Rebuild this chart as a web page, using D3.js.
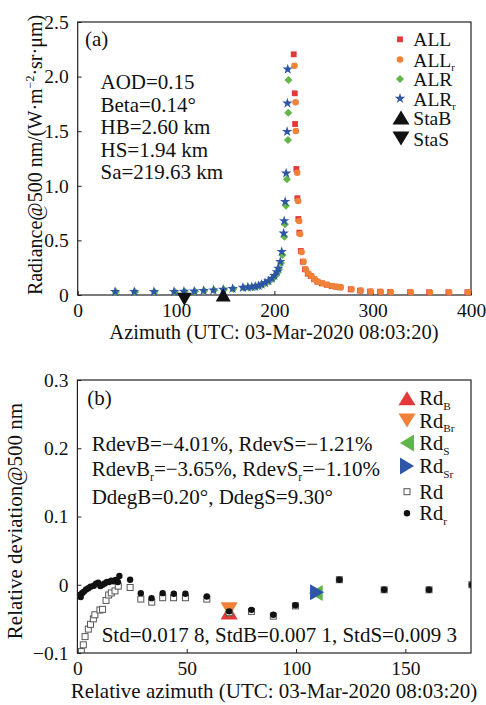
<!DOCTYPE html>
<html>
<head>
<meta charset="utf-8">
<script src="https://cdn.jsdelivr.net/npm/d3@7"></script>
<style>
  body { margin: 0; background: #fff; }
  svg text { font-family: "Liberation Serif", "Times New Roman", serif; fill: #111; }
  .tick text { font-size: 19.5px; }
  .tick line { stroke: #222; }
</style>
</head>
<body>
<svg id="chart" width="486" height="705"></svg>
<script>
// ---- panel (a): radiance vs azimuth ----
const alrAz = [38, 57.5, 77.5, 98, 108, 118.5, 128, 138, 148, 157.5, 168, 173, 177, 180.5, 184, 187, 190.5, 194, 197.5, 200, 202.5, 204, 206, 207.5, 209.5, 210, 211, 212, 213, 213.3, 213.6];
const alrR  = [0.028, 0.028, 0.028, 0.029, 0.031, 0.032, 0.038, 0.043, 0.048, 0.056, 0.066, 0.069, 0.072, 0.076, 0.083, 0.095, 0.110, 0.125, 0.149, 0.172, 0.207, 0.236, 0.292, 0.366, 0.534, 0.648, 0.818, 1.06, 1.42, 1.67, 1.969];
const alrRr = [0.03, 0.03, 0.03, 0.031, 0.033, 0.034, 0.04, 0.045, 0.05, 0.058, 0.068, 0.071, 0.074, 0.078, 0.085, 0.097, 0.112, 0.128, 0.152, 0.177, 0.212, 0.244, 0.305, 0.397, 0.565, 0.678, 0.855, 1.115, 1.496, 1.756, 2.067];

const allAz = [219.7, 220.8, 221.1, 222.4, 223.4, 224.4, 225.4, 226.9, 228.9, 231.2, 234, 237, 240.4, 243.7, 248.2, 253.3, 258.4, 262.8, 266.8, 277.7, 287.2, 297.4, 307.5, 317.7, 338, 357.4, 377, 396.3];
const allL  = [2.204, 1.847, 1.566, 1.154, 0.886, 0.696, 0.571, 0.403, 0.305, 0.235, 0.195, 0.174, 0.144, 0.122, 0.107, 0.094, 0.082, 0.076, 0.07, 0.052, 0.04, 0.032, 0.03, 0.028, 0.026, 0.025, 0.025, 0.025];
const allLr = [2.1, 1.765, 1.502, 1.12, 0.861, 0.678, 0.559, 0.394, 0.305, 0.235, 0.195, 0.174, 0.144, 0.122, 0.107, 0.094, 0.082, 0.076, 0.07, 0.052, 0.04, 0.032, 0.03, 0.028, 0.026, 0.025, 0.025, 0.025];

const staB = {az: 148, r: 0.0};
const staS = {az: 108.5, r: -0.04};

const infoA = ["AOD=0.15", "Beta=0.14°", "HB=2.60 km", "HS=1.94 km", "Sa=219.63 km"];
const xTicksA = [0, 100, 200, 300, 400];
const yTicksA = [0, 0.5, 1.0, 1.5, 2.0, 2.5];

// ---- panel (b): relative deviation ----
const rdAz = [1.8, 2.7, 3.5, 5, 6, 7.3, 8, 10.3, 11.5, 13.1, 14.3, 15.5, 17.2, 18.7, 24.1, 29, 34, 39, 44, 49.4, 59.2, 69.4, 79.6, 89.6, 99.7, 119.8, 140.3, 160.8, 180.4];
const rdV  = [-0.098, -0.088, -0.076, -0.065, -0.058, -0.05, -0.044, -0.037, -0.036, -0.023, -0.015, -0.012, -0.009, -0.002, -0.004, -0.021, -0.0255, -0.019, -0.019, -0.019, -0.021, -0.041, -0.039, -0.046, -0.031, 0.0074, -0.0074, -0.0074, 0];
const rdrAz = [1, 1.5, 2.2, 3, 4, 5, 6, 7.5, 8.5, 9.5, 10.5, 11.5, 12.5, 13.5, 14.5, 15.5, 16.5, 17.5, 18.5, 19.2, 24.1, 29, 33.9, 39, 44.1, 49.4, 59.2, 69.4, 79.6, 89.6, 99.7, 119.8, 140.3, 160.8, 180.4];
const rdrV  = [-0.015, -0.018, -0.012, -0.01, -0.007, -0.005, -0.003, -0.0015, 0.0015, 0.003, -0.002, 0, 0.002, 0.004, 0.004, 0.006, 0.005, 0.007, 0.004, 0.013, 0.0074, -0.0123, -0.0196, -0.0123, -0.0132, -0.0132, -0.0172, -0.039, -0.0368, -0.044, -0.030, 0.0074, -0.0074, -0.0074, 0];

const rdB  = {az: 69.4, v: -0.0401};
const rdBr = {az: 69.4, v: -0.0365};
const rdS  = {az: 109.0, v: -0.0121};
const rdSr = {az: 109.6, v: -0.0110};

const xTicksB = [0, 50, 100, 150];
const yTicksB = [-0.1, 0, 0.1, 0.2, 0.3];

const colors = {red: "#e3393a", orange: "#ef8138", green: "#63b54a", blue: "#2d56a6"};

const svg = d3.select("#chart");

function triPath(dir, w, h) {
    const a = w / 2, b = h / 2;
    if (dir === "up") return `M0,${-b}L${a},${b}L${-a},${b}Z`;
    if (dir === "down") return `M0,${b}L${a},${-b}L${-a},${-b}Z`;
    if (dir === "left") return `M${-b},0L${b},${-a}L${b},${a}Z`;
    return `M${b},0L${-b},${-a}L${-b},${a}Z`;
}
const diamondPath = "M0,-4L4,0L0,4L-4,0Z";

function frame(g, x, y) {
    g.append("rect")
        .attr("x", x.range()[0]).attr("y", y.range()[1])
        .attr("width", x.range()[1] - x.range()[0])
        .attr("height", y.range()[0] - y.range()[1])
        .attr("fill", "none").attr("stroke", "#222").attr("stroke-width", 1.2);
}

function axes(g, x, y, xTicks, yTicks, yFmt) {
    g.append("g")
        .attr("transform", `translate(0,${y.range()[0]})`)
        .call(d3.axisBottom(x).tickValues(xTicks).tickSize(-4).tickPadding(8).tickFormat(d3.format("d")))
        .call(a => a.select(".domain").remove());
    g.append("g")
        .attr("transform", `translate(${x.range()[0]},0)`)
        .call(d3.axisLeft(y).tickValues(yTicks).tickSize(-4).tickPadding(9).tickFormat(yFmt))
        .call(a => a.select(".domain").remove());
}

// text with sub/superscripts: parts = [[str, "sub"|"sup"|null], ...]
function richText(g, x, y, parts, size) {
    const t = g.append("text").attr("x", x).attr("y", y).style("font-size", size + "px");
    let shift = 0;
    parts.forEach(([s, kind]) => {
        let target = 0;
        if (kind === "sub") target = size * 0.22;
        if (kind === "sup") target = -size * 0.38;
        t.append("tspan")
            .attr("dy", target - shift)
            .style("font-size", kind ? (size * 0.55) + "px" : size + "px")
            .text(s);
        shift = target;
    });
    return t;
}

// ================= panel (a) =================
const xa = d3.scaleLinear().domain([0, 400]).range([77.7, 471]);
const ya = d3.scaleLinear().domain([0, 2.5]).range([295, 22]);
const ga = svg.append("g");

axes(ga, xa, ya, xTicksA, yTicksA, d => d === 0 ? "0" : d3.format(".1f")(d));
frame(ga, xa, ya);

const sq = d3.symbol().type(d3.symbolSquare).size(34);
const circ = d3.symbol().type(d3.symbolCircle).size(34);
const star = d3.symbol().type(d3.symbolStar).size(34);

ga.append("g").selectAll("path").data(allAz).join("path")
    .attr("d", sq()).attr("fill", colors.red)
    .attr("transform", (d, i) => `translate(${xa(d)},${ya(allL[i])})`);
ga.append("g").selectAll("path").data(allAz).join("path")
    .attr("d", circ()).attr("fill", colors.orange)
    .attr("transform", (d, i) => `translate(${xa(d) + 0.8},${ya(allLr[i])})`);
ga.append("g").selectAll("path").data(alrAz).join("path")
    .attr("d", diamondPath).attr("fill", colors.green)
    .attr("transform", (d, i) => `translate(${xa(d) + 0.8},${ya(alrR[i])})`);
ga.append("g").selectAll("path").data(alrAz).join("path")
    .attr("d", star()).attr("fill", colors.blue)
    .attr("transform", (d, i) => `translate(${xa(d)},${ya(alrRr[i])})`);

ga.append("path").attr("d", triPath("up", 15, 13)).attr("fill", "#111")
    .attr("transform", `translate(${xa(staB.az)},${ya(staB.r)})`);
ga.append("path").attr("d", triPath("down", 15, 13)).attr("fill", "#111")
    .attr("transform", `translate(${xa(staS.az)},${ya(staS.r)})`);

ga.append("text").attr("x", 85).attr("y", 46).style("font-size", "21px").text("(a)");
infoA.forEach((s, i) => {
    ga.append("text").attr("x", 100.5).attr("y", 89.3 + i * 22.5).style("font-size", "21px").text(s);
});

// legend (a)
const legA = [
    {sym: sq(), col: colors.red, parts: [["ALL", null]]},
    {sym: circ(), col: colors.orange, parts: [["ALL", null], ["r", "sub"]]},
    {sym: diamondPath, col: colors.green, parts: [["ALR", null]]},
    {sym: star(), col: colors.blue, parts: [["ALR", null], ["r", "sub"]]},
    {sym: triPath("up", 17, 14), col: "#111", parts: [["StaB", null]]},
    {sym: triPath("down", 17, 14), col: "#111", parts: [["StaS", null]]}
];
const legAy = [39.3, 59.5, 79, 98.5, 117.5, 138.5];
legA.forEach((d, i) => {
    ga.append("path").attr("d", d.sym).attr("fill", d.col)
        .attr("transform", `translate(${i < 4 ? 400 : 401},${legAy[i]})`);
    richText(ga, 413.3, legAy[i] + 7, d.parts, 19.5);
});

ga.append("text")
    .attr("transform", "translate(42,155) rotate(-90)")
    .attr("text-anchor", "middle")
    .call(t => {
        t.append("tspan").style("font-size", "20px").text("Radiance@500 nm/(W·m");
        t.append("tspan").style("font-size", "12px").attr("dy", -8).text("−2");
        t.append("tspan").style("font-size", "20px").attr("dy", 8).text("·sr·μm)");
    });
ga.append("text").attr("x", 274).attr("y", 339).attr("text-anchor", "middle")
    .style("font-size", "20.5px").text("Azimuth (UTC: 03-Mar-2020 08:03:20)");

// ================= panel (b) =================
const xb = d3.scaleLinear().domain([0, 180]).range([77.4, 471]);
const yb = d3.scaleLinear().domain([-0.1, 0.3]).range([653, 380]);
const gb = svg.append("g");

axes(gb, xb, yb, xTicksB, yTicksB, d => Math.abs(d) < 1e-9 ? "0" : d3.format(".1f")(d));

svg.append("clipPath").attr("id", "clipB").append("rect")
    .attr("x", xb.range()[0]).attr("y", yb.range()[1])
    .attr("width", xb.range()[1] - xb.range()[0]).attr("height", yb.range()[0] - yb.range()[1]);
const pb = gb.append("g").attr("clip-path", "url(#clipB)");

pb.append("path").attr("d", triPath("up", 17, 15)).attr("fill", colors.red)
    .attr("transform", `translate(${xb(rdB.az)},${yb(rdB.v)})`);
pb.append("path").attr("d", triPath("down", 17, 15)).attr("fill", colors.orange)
    .attr("transform", `translate(${xb(rdBr.az)},${yb(rdBr.v)})`);
pb.append("path").attr("d", triPath("left", 16, 14)).attr("fill", colors.green)
    .attr("transform", `translate(${xb(rdS.az)},${yb(rdS.v)})`);
pb.append("path").attr("d", triPath("right", 16, 14)).attr("fill", colors.blue)
    .attr("transform", `translate(${xb(rdSr.az)},${yb(rdSr.v)})`);

pb.append("g").selectAll("rect").data(rdAz).join("rect")
    .attr("x", d => xb(d) - 3).attr("y", (d, i) => yb(rdV[i]) - 3)
    .attr("width", 6).attr("height", 6)
    .attr("fill", "#fff").attr("stroke", "#555").attr("stroke-width", 1);
pb.append("g").selectAll("circle").data(rdrAz).join("circle")
    .attr("cx", d => xb(d)).attr("cy", (d, i) => yb(rdrV[i]))
    .attr("r", 3.2).attr("fill", "#111");

frame(gb, xb, yb);

gb.append("text").attr("x", 87.3).attr("y", 405).style("font-size", "21px").text("(b)");
richText(gb, 91.7, 450.7, [["RdevB=−4.01%, RdevS=−1.21%", null]], 21);
richText(gb, 91.7, 476, [["RdevB", null], ["r", "sub"], ["=−3.65%, RdevS", null], ["r", "sub"], ["=−1.10%", null]], 21);
richText(gb, 91.7, 504.3, [["DdegB=0.20°, DdegS=9.30°", null]], 21);
richText(gb, 101.7, 641.7, [["Std=0.017 8, StdB=0.007 1, StdS=0.009 3", null]], 21);

// legend (b)
const legB = [
    {d: triPath("up", 17, 14), col: colors.red, parts: [["Rd", null], ["B", "sub"]]},
    {d: triPath("down", 17, 14), col: colors.orange, parts: [["Rd", null], ["Br", "sub"]]},
    {d: triPath("left", 17, 14), col: colors.green, parts: [["Rd", null], ["S", "sub"]]},
    {d: triPath("right", 17, 14), col: colors.blue, parts: [["Rd", null], ["Sr", "sub"]]},
    {d: null, col: "sq", parts: [["Rd", null]]},
    {d: null, col: "dot", parts: [["Rd", null], ["r", "sub"]]}
];
const legBy = [398.3, 420.5, 443, 466, 491.7, 513.3];
legB.forEach((d, i) => {
    if (d.col === "sq") {
        gb.append("rect").attr("x", 404).attr("y", legBy[i] - 3).attr("width", 6).attr("height", 6)
            .attr("fill", "#fff").attr("stroke", "#555");
    } else if (d.col === "dot") {
        gb.append("circle").attr("cx", 407).attr("cy", legBy[i]).attr("r", 3.2).attr("fill", "#111");
    } else {
        gb.append("path").attr("d", d.d).attr("fill", d.col)
            .attr("transform", `translate(407,${legBy[i]})`);
    }
    richText(gb, 419.3, legBy[i] + 7, d.parts, 20.5);
});

gb.append("text")
    .attr("transform", "translate(22,521) rotate(-90)")
    .attr("text-anchor", "middle")
    .style("font-size", "21px")
    .text("Relative deviation@500 nm");
gb.append("text").attr("x", 274).attr("y", 698).attr("text-anchor", "middle")
    .style("font-size", "21px").text("Relative azimuth (UTC: 03-Mar-2020 08:03:20)");
</script>
</body>
</html>
